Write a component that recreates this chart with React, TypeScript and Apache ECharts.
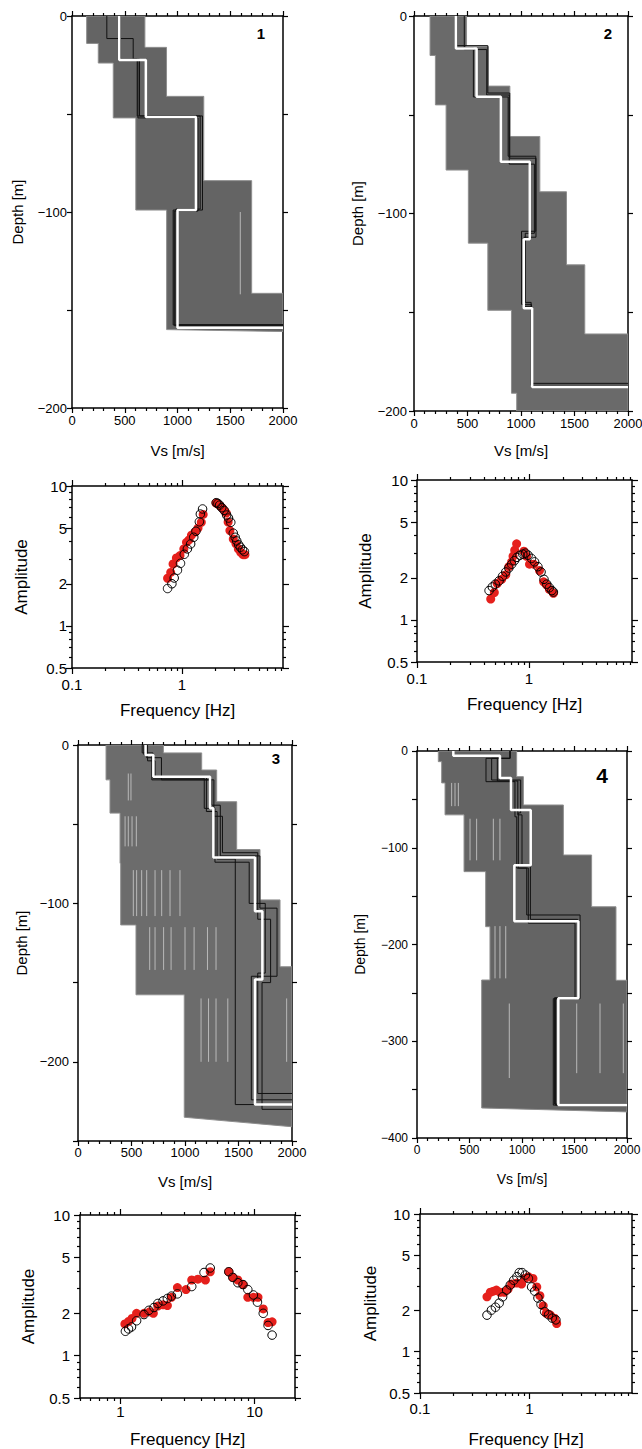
import React, { useEffect, useRef } from 'react';
import * as echarts from 'echarts';

const FONT = "'Liberation Sans', Arial, Helvetica, sans-serif";

// ---------------- Vs profile panels (Vs in m/s, depth in m, positive downward) ----------------
// Panel 1
const P1_ENV_LEFT_VS = [139, 249, 391, 605, 897];
const P1_ENV_LEFT_DEPTH = [14, 24, 52, 99, 160];
const P1_ENV_RIGHT_VS = [691, 896, 1249, 1703, 2000];
const P1_ENV_RIGHT_DEPTH = [16, 41, 84, 141.5, 161];
const P1_BEST_VS = [448, 700, 1175, 1000, 2000];
const P1_BEST_DEPTH = [22.5, 51.5, 99, 159];
const P1_ALT_VS = [[330, 580, 618, 1237, 959, 2000], [460, 640, 1215, 985, 2000], [455, 625, 1195, 970, 2000]];
const P1_ALT_DEPTH = [[11.5, 22, 51, 99, 157.6], [22, 51, 98.5, 157.5], [22.5, 52, 99.5, 158]];
const P1_LIGHT = [[1595, 100, 142]];

// Panel 2
const P2_ENV_LEFT_VS = [150, 200, 300, 508, 690, 911, 960];
const P2_ENV_LEFT_DEPTH = [20, 45, 78, 115, 149, 191, 200];
const P2_ENV_RIGHT_VS = [491, 694, 896, 1176, 1425, 1596, 2000];
const P2_ENV_RIGHT_DEPTH = [15.5, 35.5, 61, 89, 126, 161, 200];
const P2_BEST_VS = [392, 585, 812, 1082, 1026, 1104, 2000];
const P2_BEST_DEPTH = [16.4, 40.9, 73.8, 113, 148, 187.8];
const P2_ALT_VS = [[395, 555, 880, 1138, 1005, 1098, 2000], [400, 690, 895, 1140, 1030, 1100, 2000], [470, 680, 890, 1125, 1040, 1095, 2000]];
const P2_ALT_DEPTH = [[16, 41, 71, 109, 146, 186], [15, 39, 72, 112, 147, 188], [17, 40, 75, 110, 145, 187]];
const P2_LIGHT: number[][] = [];

// Panel 3
const P3_ENV_LEFT_VS = [262, 299, 393, 399, 542, 993];
const P3_ENV_LEFT_DEPTH = [22, 43, 74.7, 113.6, 157.7, 235];
const P3_ENV_RIGHT_VS = [798, 1156, 1296, 1483, 1701, 1888, 2000];
const P3_ENV_RIGHT_DEPTH = [5, 15.8, 35.8, 66, 97.8, 140, 241];
const P3_BEST_VS = [632, 704, 1234, 1265, 1654, 1723, 1654, 2000];
const P3_BEST_DEPTH = [6.3, 20, 40, 71, 105, 148, 227];
const P3_ALT_VS = [[615, 690, 1250, 1330, 1700, 1860, 1620, 2000], [650, 720, 1200, 1300, 1470, 2000], [640, 780, 1270, 1350, 1680, 1800, 1720, 2000], [600, 700, 1180, 1280, 1600, 1750, 1680, 2000]];
const P3_ALT_DEPTH = [[6, 22, 38, 70, 103, 146, 224], [10, 20, 42, 72, 227], [8, 22, 45, 68, 110, 150, 230], [5, 21, 40, 74, 100, 144, 220]];
const P3_LIGHT = [[470, 18, 35], [495, 18, 35], [440, 45, 64], [470, 45, 64], [505, 45, 64], [545, 45, 64], [517, 79, 108], [548, 79, 108], [595, 79, 108], [642, 79, 108], [720, 79, 108], [782, 79, 108], [860, 79, 108], [953, 79, 108], [670, 115, 142], [720, 115, 142], [800, 115, 142], [870, 115, 142], [1000, 115, 142], [1085, 115, 142], [1210, 115, 142], [1290, 115, 142], [1150, 160, 200], [1220, 160, 200], [1290, 160, 200], [1400, 160, 200], [1950, 160, 200]];

// Panel 4
const P4_ENV_LEFT_VS = [203, 235, 267, 448, 654, 695, 616];
const P4_ENV_LEFT_DEPTH = [11, 33, 66, 124.7, 181.6, 236.7, 369];
const P4_ENV_RIGHT_VS = [949, 1013, 1394, 1663, 1895, 2000];
const P4_ENV_RIGHT_DEPTH = [26.5, 55.8, 107.5, 161, 237, 373];
const P4_BEST_VS = [346, 790, 895, 1083, 927, 1537, 1346, 2000];
const P4_BEST_DEPTH = [4.8, 28, 61, 118, 176, 255.6, 365.9];
const P4_ALT_VS = [[886, 657, 933, 950, 1045, 1553, 1298, 2000], [886, 711, 987, 965, 1060, 1505, 1320, 2000], [886, 765, 960, 1000, 1080, 1530, 1310, 2000]];
const P4_ALT_DEPTH = [[7.6, 31.7, 68, 121, 169.5, 256, 366], [7.6, 30, 64, 121, 178, 256, 366], [7.6, 31, 66, 118, 174, 255, 365]];
const P4_LIGHT = [[330, 33, 57], [362, 33, 57], [394, 33, 57], [505, 70, 113], [568, 70, 113], [727, 70, 113], [790, 70, 113], [743, 181, 235], [790, 181, 235], [845, 181, 235], [879, 261, 338], [1521, 261, 333], [1743, 261, 333], [1965, 261, 333]];

// ---------------- Amplitude spectra (frequency Hz, amplitude) ----------------
const A1_OPEN_F = [0.74, 0.81, 0.85, 0.91, 0.97, 1.05, 1.12, 1.2, 1.28, 1.34, 1.44, 1.47, 1.54, 2.05, 2.12, 2.2, 2.3, 2.42, 2.55, 2.65, 2.78, 2.93, 3.05, 3.15, 3.28, 3.4, 3.55, 3.7];
const A1_OPEN_A = [1.85, 2.0, 2.2, 2.5, 2.8, 3.25, 3.55, 3.85, 4.3, 4.75, 5.55, 6.3, 6.85, 7.6, 7.5, 7.3, 7.0, 6.7, 6.2, 5.9, 5.5, 4.6, 4.3, 4.05, 3.8, 3.65, 3.5, 3.4];
const A1_RED_F = [0.74, 0.79, 0.83, 0.89, 0.96, 1.04, 1.1, 1.16, 1.22, 1.31, 1.4, 1.5, 1.56, 2.04, 2.14, 2.25, 2.33, 2.45, 2.53, 2.63, 2.73, 2.93, 3.1, 3.26, 3.42, 3.6, 3.74];
const A1_RED_A = [2.19, 2.41, 2.77, 3.06, 3.18, 3.55, 3.96, 4.12, 4.45, 4.68, 5.0, 5.5, 6.26, 7.55, 7.4, 7.15, 6.95, 6.6, 6.4, 5.52, 4.8, 4.18, 3.86, 3.55, 3.36, 3.23, 3.23];

const A2_OPEN_F = [0.44, 0.47, 0.5, 0.54, 0.58, 0.62, 0.66, 0.7, 0.74, 0.78, 0.83, 0.88, 0.93, 0.98, 1.05, 1.12, 1.2, 1.28, 1.36, 1.44, 1.52, 1.6, 1.65];
const A2_OPEN_A = [1.62, 1.72, 1.8, 1.9, 2.05, 2.2, 2.35, 2.5, 2.65, 2.8, 2.9, 2.95, 3.0, 2.9, 2.75, 2.6, 2.4, 2.2, 1.95, 1.8, 1.7, 1.62, 1.58];
const A2_RED_F = [0.455, 0.49, 0.52, 0.57, 0.62, 0.66, 0.7, 0.72, 0.745, 0.775, 0.9, 0.95, 1.01, 1.1, 1.24, 1.35, 1.43, 1.52, 1.65];
const A2_RED_A = [1.41, 1.57, 1.82, 1.95, 2.1, 2.4, 2.6, 2.85, 3.15, 3.5, 3.1, 2.85, 2.5, 2.5, 2.25, 1.87, 1.78, 1.65, 1.55];

const A3_OPEN_F = [1.09, 1.15, 1.21, 1.32, 1.5, 1.63, 1.78, 1.9, 2.08, 2.24, 2.4, 2.66, 3.4, 4.2, 4.67, 6.42, 6.88, 7.5, 8.2, 8.9, 9.8, 10.5, 11.6, 12.6, 13.5];
const A3_OPEN_A = [1.49, 1.55, 1.6, 1.77, 1.96, 2.1, 2.2, 2.35, 2.45, 2.55, 2.65, 2.75, 3.1, 3.9, 4.2, 3.95, 3.6, 3.3, 3.2, 2.95, 2.7, 2.4, 2.0, 1.64, 1.4];
const A3_RED_F = [1.08, 1.15, 1.22, 1.32, 1.5, 1.65, 1.76, 1.9, 2.08, 2.24, 2.4, 2.66, 3.08, 3.4, 3.78, 4.3, 4.67, 6.42, 6.88, 7.5, 8.2, 8.9, 9.8, 10.6, 11.6, 12.6, 13.5];
const A3_RED_A = [1.68, 1.75, 1.84, 2.0, 2.0, 2.05, 2.0, 2.25, 2.3, 2.27, 2.6, 3.05, 2.95, 3.45, 3.5, 3.45, 3.95, 3.95, 3.6, 3.45, 3.2, 2.6, 2.6, 2.6, 2.15, 1.72, 1.74];

const A4_OPEN_F = [0.41, 0.45, 0.49, 0.53, 0.57, 0.62, 0.67, 0.72, 0.77, 0.81, 0.86, 0.92, 0.98, 1.05, 1.12, 1.2, 1.28, 1.38, 1.5, 1.62, 1.75];
const A4_OPEN_A = [1.84, 2.0, 2.1, 2.25, 2.5, 2.8, 3.05, 3.3, 3.5, 3.75, 3.75, 3.6, 3.4, 2.95, 2.75, 2.45, 2.2, 1.95, 1.85, 1.75, 1.7];
const A4_RED_F = [0.41, 0.44, 0.47, 0.5, 0.54, 0.59, 0.64, 0.69, 0.77, 0.85, 0.91, 0.98, 1.08, 1.17, 1.25, 1.34, 1.43, 1.55, 1.7, 1.78];
const A4_RED_A = [2.5, 2.7, 2.75, 2.8, 2.7, 2.7, 2.85, 3.1, 3.15, 3.1, 3.4, 3.5, 3.4, 2.95, 2.55, 2.15, 1.9, 1.85, 1.75, 1.6];

// ---------------- Tick values ----------------
const VS_MIN = 0;
const VS_MAX = 2000;
const AMP_MAJOR = [0.5, 1, 2, 5, 10];
const AMP_MINOR = [0.6, 0.7, 0.8, 0.9, 3, 4, 6, 7, 8, 9];
const FREQ_MAJOR_LOW = [0.1, 1];
const FREQ_MINOR_LOW = [0.2, 0.3, 0.4, 0.5, 0.6, 0.7, 0.8, 0.9, 2, 3, 4, 5, 6, 7, 8];
const FREQ_MAJOR_HIGH = [1, 10];
const FREQ_MINOR_HIGH = [0.5, 0.6, 0.7, 0.8, 0.9, 2, 3, 4, 5, 6, 7, 8, 9, 20];

// ---------------- helpers ----------------
function stepLine(vs: number[], depth: number[], maxDepth: number, maxVs: number): number[][] {
  const pts: number[][] = [];
  let top = 0;
  for (let i = 0; i < vs.length; i++) {
    pts.push([vs[i], -top]);
    if (i < depth.length) {
      pts.push([vs[i], -depth[i]]);
      top = depth[i];
    } else if (vs[i] < maxVs) {
      pts.push([vs[i], -maxDepth]);
    }
  }
  return pts;
}

function envelope(lv: number[], ld: number[], rv: number[], rd: number[]): number[][] {
  const pts: number[][] = [];
  let top = 0;
  for (let i = 0; i < rv.length; i++) {
    pts.push([rv[i], -top]);
    pts.push([rv[i], -rd[i]]);
    top = rd[i];
  }
  for (let i = lv.length - 1; i >= 0; i--) {
    const t = i === 0 ? 0 : ld[i - 1];
    pts.push([lv[i], -ld[i]]);
    pts.push([lv[i], -t]);
  }
  return pts;
}

const L10 = (v: number) => Math.log10(v);
const fmtLog = (v: number) => {
  const r = Math.pow(10, v);
  return r < 1 ? r.toFixed(1) : String(Math.round(r));
};
const fmtDepth = (v: number) => {
  if (Math.abs(v % 100) > 1e-6) return '';
  return v < 0 ? '\u2212' + String(-v) : String(v);
};
const fmtPlain = (v: number) => String(Math.round(v));

type ProfilePanel = {
  grid: { left: number; top: number; width: number; height: number };
  maxDepth: number;
  envLV: number[]; envLD: number[]; envRV: number[]; envRD: number[];
  bestVs: number[]; bestDepth: number[];
  altVs: number[][]; altDepth: number[][];
  light: number[][];
  fill: string;
  labelSize: number; nameSize: number;
  xMargin: number; yMargin: number; xNameGap: number; yNameGap: number;
};

type AmpPanel = {
  grid: { left: number; top: number; width: number; height: number };
  fMin: number; fMax: number;
  fMajor: number[]; fMinor: number[]; fLabels: number[];
  openF: number[]; openA: number[]; redF: number[]; redA: number[];
  xMargin: number; yMargin: number; xNameGap: number; yNameGap: number;
};

const PROFILES: ProfilePanel[] = [
  { grid: { left: 72, top: 16, width: 211, height: 392 }, maxDepth: 200,
    envLV: P1_ENV_LEFT_VS, envLD: P1_ENV_LEFT_DEPTH, envRV: P1_ENV_RIGHT_VS, envRD: P1_ENV_RIGHT_DEPTH,
    bestVs: P1_BEST_VS, bestDepth: P1_BEST_DEPTH, altVs: P1_ALT_VS, altDepth: P1_ALT_DEPTH, light: P1_LIGHT,
    fill: '#646464', labelSize: 13, nameSize: 15, xMargin: 6, yMargin: 5, xNameGap: 35, yNameGap: 47 },
  { grid: { left: 414, top: 16, width: 214, height: 395 }, maxDepth: 200,
    envLV: P2_ENV_LEFT_VS, envLD: P2_ENV_LEFT_DEPTH, envRV: P2_ENV_RIGHT_VS, envRD: P2_ENV_RIGHT_DEPTH,
    bestVs: P2_BEST_VS, bestDepth: P2_BEST_DEPTH, altVs: P2_ALT_VS, altDepth: P2_ALT_DEPTH, light: P2_LIGHT,
    fill: '#6a6a6a', labelSize: 13, nameSize: 15, xMargin: 6, yMargin: 7, xNameGap: 32, yNameGap: 49 },
  { grid: { left: 78, top: 745, width: 214, height: 396 }, maxDepth: 250,
    envLV: P3_ENV_LEFT_VS, envLD: P3_ENV_LEFT_DEPTH, envRV: P3_ENV_RIGHT_VS, envRD: P3_ENV_RIGHT_DEPTH,
    bestVs: P3_BEST_VS, bestDepth: P3_BEST_DEPTH, altVs: P3_ALT_VS, altDepth: P3_ALT_DEPTH, light: P3_LIGHT,
    fill: '#6c6c6c', labelSize: 13, nameSize: 15, xMargin: 5, yMargin: 9, xNameGap: 33, yNameGap: 49 },
  { grid: { left: 417, top: 751, width: 210, height: 387 }, maxDepth: 400,
    envLV: P4_ENV_LEFT_VS, envLD: P4_ENV_LEFT_DEPTH, envRV: P4_ENV_RIGHT_VS, envRD: P4_ENV_RIGHT_DEPTH,
    bestVs: P4_BEST_VS, bestDepth: P4_BEST_DEPTH, altVs: P4_ALT_VS, altDepth: P4_ALT_DEPTH, light: P4_LIGHT,
    fill: '#646464', labelSize: 12, nameSize: 14, xMargin: 6, yMargin: 9, xNameGap: 34, yNameGap: 50 },
];

const AMPS: AmpPanel[] = [
  { grid: { left: 72, top: 486, width: 211, height: 182 }, fMin: 0.1, fMax: 8.3,
    fMajor: FREQ_MAJOR_LOW, fMinor: FREQ_MINOR_LOW, fLabels: FREQ_MAJOR_LOW,
    openF: A1_OPEN_F, openA: A1_OPEN_A, redF: A1_RED_F, redA: A1_RED_A,
    xMargin: 9, yMargin: 5, xNameGap: 34, yNameGap: 42 },
  { grid: { left: 417, top: 480, width: 215, height: 182 }, fMin: 0.1, fMax: 8.3,
    fMajor: FREQ_MAJOR_LOW, fMinor: FREQ_MINOR_LOW, fLabels: FREQ_MAJOR_LOW,
    openF: A2_OPEN_F, openA: A2_OPEN_A, redF: A2_RED_F, redA: A2_RED_A,
    xMargin: 9, yMargin: 9, xNameGap: 34, yNameGap: 43 },
  { grid: { left: 80, top: 1215, width: 215, height: 183 }, fMin: 0.5, fMax: 20,
    fMajor: FREQ_MAJOR_HIGH, fMinor: FREQ_MINOR_HIGH, fLabels: FREQ_MAJOR_HIGH,
    openF: A3_OPEN_F, openA: A3_OPEN_A, redF: A3_RED_F, redA: A3_RED_A,
    xMargin: 6, yMargin: 10, xNameGap: 33, yNameGap: 43 },
  { grid: { left: 420, top: 1214, width: 212, height: 179 }, fMin: 0.1, fMax: 8.7,
    fMajor: FREQ_MAJOR_LOW, fMinor: FREQ_MINOR_LOW, fLabels: FREQ_MAJOR_LOW,
    openF: A4_OPEN_F, openA: A4_OPEN_A, redF: A4_RED_F, redA: A4_RED_A,
    xMargin: 8, yMargin: 10, xNameGap: 38, yNameGap: 41 },
];

const PANEL_LABELS = [
  { text: '1', x: 261, y: 33, size: 15 },
  { text: '2', x: 608, y: 33, size: 15 },
  { text: '3', x: 276, y: 758, size: 15 },
  { text: '4', x: 602, y: 775, size: 21 },
];

function buildOption() {
  const grids: any[] = [];
  const xAxes: any[] = [];
  const yAxes: any[] = [];
  const series: any[] = [];
  const axisLineStyle = { color: '#000', width: 1.5 };
  const tickStyle = { color: '#000', width: 1.2 };

  PROFILES.forEach((p) => {
    const gi = grids.length;
    grids.push({ ...p.grid, containLabel: false, outerBoundsMode: 'none' });
    const xBase = {
      type: 'value', gridIndex: gi, min: VS_MIN, max: VS_MAX, interval: 500,
      axisLine: { show: true, onZero: false, lineStyle: axisLineStyle },
      axisTick: { show: true, length: 5, lineStyle: tickStyle },
      minorTick: { show: true, splitNumber: 5, length: 3, lineStyle: tickStyle },
      splitLine: { show: false }, minorSplitLine: { show: false },
    };
    const xi = xAxes.length;
    xAxes.push({
      ...xBase, position: 'bottom',
      axisLabel: { show: true, color: '#000', fontSize: p.labelSize, fontFamily: FONT, margin: p.xMargin, formatter: fmtPlain, showMinLabel: true, showMaxLabel: true },
      name: 'Vs [m/s]', nameLocation: 'middle', nameGap: p.xNameGap,
      nameTextStyle: { color: '#000', fontSize: p.nameSize, fontFamily: FONT },
    });
    xAxes.push({ ...xBase, position: 'top', axisLabel: { show: false } });
    const yBase = {
      type: 'value', gridIndex: gi, min: -p.maxDepth, max: 0, interval: 50,
      axisLine: { show: true, onZero: false, lineStyle: axisLineStyle },
      axisTick: { show: true, length: 5, lineStyle: tickStyle },
      splitLine: { show: false },
    };
    const yi = yAxes.length;
    yAxes.push({
      ...yBase, position: 'left',
      axisLabel: { show: true, color: '#000', fontSize: p.labelSize, fontFamily: FONT, margin: p.yMargin, formatter: fmtDepth, showMinLabel: true, showMaxLabel: true },
      name: 'Depth [m]', nameLocation: 'middle', nameGap: p.yNameGap,
      nameTextStyle: { color: '#000', fontSize: p.nameSize, fontFamily: FONT },
    });
    yAxes.push({ ...yBase, position: 'right', axisLabel: { show: false } });

    const poly = envelope(p.envLV, p.envLD, p.envRV, p.envRD);
    series.push({
      type: 'custom', xAxisIndex: xi, yAxisIndex: yi, silent: true, z: 1, clip: true,
      data: poly,
      renderItem: (params: any, api: any) => {
        if (params.dataIndex !== 0) return null;
        const pts = poly.map((pt) => api.coord(pt));
        return { type: 'polygon', shape: { points: pts }, style: { fill: p.fill, stroke: '#8e8e8e', lineWidth: 1 } };
      },
    });
    if (p.light.length) {
      series.push({
        type: 'custom', xAxisIndex: xi, yAxisIndex: yi, silent: true, z: 2, clip: true,
        data: p.light.map((l) => [l[0], -l[1], -l[2]]),
        encode: { x: 0, y: [1, 2] },
        renderItem: (params: any, api: any) => {
          const a = api.coord([api.value(0), api.value(1)]);
          const b = api.coord([api.value(0), api.value(2)]);
          return { type: 'line', shape: { x1: a[0], y1: a[1], x2: b[0], y2: b[1] }, style: { stroke: '#b9b9b9', lineWidth: 1 } };
        },
      });
    }
    p.altVs.forEach((vs, k) => {
      series.push({
        type: 'line', xAxisIndex: xi, yAxisIndex: yi, z: 3, silent: true,
        data: stepLine(vs, p.altDepth[k], p.maxDepth, VS_MAX),
        symbol: 'none', lineStyle: { color: '#111', width: 1 },
      });
    });
    series.push({
      type: 'line', xAxisIndex: xi, yAxisIndex: yi, z: 4, silent: true,
      data: stepLine(p.bestVs, p.bestDepth, p.maxDepth, VS_MAX),
      symbol: 'none', lineStyle: { color: '#ffffff', width: 2.5 },
    });
  });

  AMPS.forEach((a) => {
    const gi = grids.length;
    grids.push({ ...a.grid, containLabel: false, outerBoundsMode: 'none' });
    const xMin = L10(a.fMin);
    const xMax = L10(a.fMax);
    const yMin = L10(0.5);
    const yMax = L10(10);
    const mk = (dim: 'x' | 'y', position: string, ticks: number[], len: number, line: boolean, extra: any) => ({
      type: 'value', gridIndex: gi, position,
      min: dim === 'x' ? xMin : yMin, max: dim === 'x' ? xMax : yMax,
      axisLine: { show: line, onZero: false, lineStyle: axisLineStyle },
      axisTick: { show: true, length: len, lineStyle: tickStyle, customValues: ticks.map(L10) },
      splitLine: { show: false },
      axisLabel: { show: false },
      ...extra,
    });
    const xi = xAxes.length;
    xAxes.push(mk('x', 'bottom', a.fMajor, 6, true, {
      axisLabel: { show: true, color: '#000', fontSize: 15, fontFamily: FONT, margin: a.xMargin, customValues: a.fLabels.map(L10), formatter: fmtLog },
      name: 'Frequency [Hz]', nameLocation: 'middle', nameGap: a.xNameGap,
      nameTextStyle: { color: '#000', fontSize: 17, fontFamily: FONT },
    }));
    xAxes.push(mk('x', 'bottom', a.fMinor, 3, false, {}));
    xAxes.push(mk('x', 'top', a.fMajor, 6, true, {}));
    xAxes.push(mk('x', 'top', a.fMinor, 3, false, {}));
    const yi = yAxes.length;
    yAxes.push(mk('y', 'left', AMP_MAJOR, 6, true, {
      axisLabel: { show: true, color: '#000', fontSize: 15, fontFamily: FONT, margin: a.yMargin, customValues: AMP_MAJOR.map(L10), formatter: fmtLog },
      name: 'Amplitude', nameLocation: 'middle', nameGap: a.yNameGap,
      nameTextStyle: { color: '#000', fontSize: 17, fontFamily: FONT },
    }));
    yAxes.push(mk('y', 'left', AMP_MINOR, 3, false, {}));
    yAxes.push(mk('y', 'right', AMP_MAJOR, 6, true, {}));
    yAxes.push(mk('y', 'right', AMP_MINOR, 3, false, {}));

    series.push({
      type: 'scatter', xAxisIndex: xi, yAxisIndex: yi, z: 3, silent: true,
      data: a.redF.map((f, i) => [L10(f), L10(a.redA[i])]),
      symbol: 'circle', symbolSize: 9,
      itemStyle: { color: '#e5201c', opacity: 1 },
    });
    series.push({
      type: 'scatter', xAxisIndex: xi, yAxisIndex: yi, z: 4, silent: true,
      data: a.openF.map((f, i) => [L10(f), L10(a.openA[i])]),
      symbol: 'circle', symbolSize: 8.5,
      itemStyle: { color: 'rgba(0,0,0,0)', borderColor: '#000', borderWidth: 1, opacity: 1 },
    });
  });

  const graphic = PANEL_LABELS.map((l) => ({
    type: 'text', x: l.x, y: l.y, z: 10,
    style: { text: l.text, fill: '#000', font: `bold ${l.size}px ${FONT}`, textAlign: 'center', textVerticalAlign: 'middle' },
  }));

  return {
    animation: false,
    backgroundColor: '#ffffff',
    textStyle: { fontFamily: FONT },
    grid: grids,
    xAxis: xAxes,
    yAxis: yAxes,
    series,
    graphic,
  };
}

export default function App() {
  const ref = useRef<HTMLDivElement>(null);
  useEffect(() => {
    if (!ref.current) return;
    const chart = echarts.init(ref.current, undefined, { renderer: 'svg' });
    chart.setOption(buildOption() as any);
    return () => chart.dispose();
  }, []);
  return (
    <div
      ref={ref}
      style={{ position: 'absolute', left: 0, top: 0, width: 642, height: 1449, background: '#fff' }}
    />
  );
}
